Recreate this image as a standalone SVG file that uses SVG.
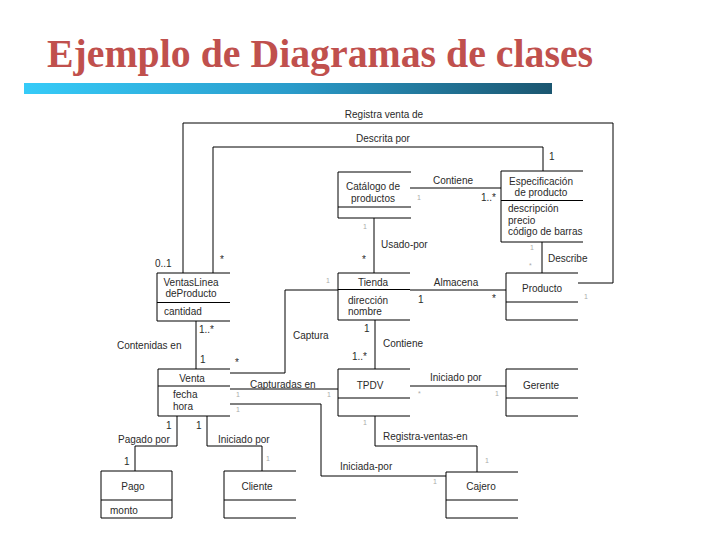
<svg xmlns="http://www.w3.org/2000/svg" width="720" height="540" viewBox="0 0 720 540">
<defs>
<linearGradient id="bar" x1="0" y1="0" x2="1" y2="0">
<stop offset="0" stop-color="#36cbf8"/>
<stop offset="0.5" stop-color="#2a9ccb"/>
<stop offset="1" stop-color="#1b5670"/>
</linearGradient>
<style>
.b{fill:none;stroke:#000;stroke-width:1}
.l{fill:none;stroke:#000;stroke-width:1}
.t{font-family:"Liberation Sans",Arial,sans-serif;font-size:10px;fill:#2a2a2a}
.c{text-anchor:middle}
.s{font-family:"Liberation Sans",Arial,sans-serif;font-size:7px;fill:#aaa}
</style>
</defs>
<rect width="720" height="540" fill="#fff"/>
<text x="47" y="67" font-family="'Liberation Serif','Times New Roman',serif" font-weight="bold" font-size="39.8" fill="#c0504d">Ejemplo de Diagramas de clases</text>
<rect x="24" y="83" width="528" height="11" fill="url(#bar)"/>

<g id="connectors">
<polyline class="l" points="183,273 183,123 613,123 613,283 578,283"/>
<polyline class="l" points="213,273 213,147 543,147 543,171"/>
<line class="l" x1="410" y1="188" x2="501" y2="188"/>
<line class="l" x1="374" y1="218" x2="374" y2="273"/>
<line class="l" x1="542" y1="242" x2="542" y2="273"/>
<line class="l" x1="410" y1="290" x2="506" y2="290"/>
<polyline class="l" points="230,373 285,373 285,290 338,290"/>
<line class="l" x1="375" y1="320" x2="375" y2="369"/>
<line class="l" x1="196" y1="321" x2="196" y2="369"/>
<line class="l" x1="230" y1="389" x2="338" y2="389"/>
<polyline class="l" points="230,404 321,404 321,476 446,476"/>
<line class="l" x1="410" y1="386" x2="506" y2="386"/>
<polyline class="l" points="375,416 375,446 477,446 477,472"/>
<polyline class="l" points="177,416 177,446 135,446 135,471"/>
<polyline class="l" points="207,416 207,446 262,446 262,471"/>

<text class="t c" x="384" y="118">Registra venta de</text>
<text class="t c" x="383" y="142">Descrita por</text>
<text class="t" x="549" y="160">1</text>
<text class="t c" x="453" y="183.5">Contiene</text>
<text class="t" x="481" y="201">1..*</text>
<text class="s" x="417" y="200">1</text>
<text class="t" x="381" y="248">Usado-por</text>
<text class="t" x="362" y="263">*</text>
<text class="s" x="363" y="229">1</text>
<text class="t" x="548" y="261.5">Describe</text>
<text class="s" x="530" y="250">1</text>
<text class="s" x="529" y="268">*</text>
<text class="t c" x="456" y="286">Almacena</text>
<text class="t" x="418" y="303">1</text>
<text class="t" x="492" y="302">*</text>
<text class="s" x="584" y="299">1</text>
<text class="t" x="155" y="266.5">0..1</text>
<text class="t" x="220" y="263">*</text>
<text class="t" x="293" y="338.5">Captura</text>
<text class="s" x="326" y="283">1</text>
<text class="t" x="235" y="366">*</text>
<text class="t" x="364" y="331.5">1</text>
<text class="t" x="352" y="360">1..*</text>
<text class="t" x="383" y="346.5">Contiene</text>
<text class="t" x="199" y="333">1..*</text>
<text class="t" x="200" y="363">1</text>
<text class="t" x="117" y="348.5">Contenidas en</text>
<text class="t" x="250" y="387.5">Capturadas en</text>
<text class="s" x="236" y="397">1</text>
<text class="s" x="327" y="397">1</text>
<text class="t" x="340" y="470">Iniciada-por</text>
<text class="s" x="236" y="412">1</text>
<text class="s" x="433" y="484">1</text>
<text class="t" x="430" y="381">Iniciado por</text>
<text class="s" x="418" y="396">*</text>
<text class="s" x="495" y="396">1</text>
<text class="t" x="383" y="440">Registra-ventas-en</text>
<text class="s" x="363" y="425">1</text>
<text class="s" x="485" y="463">1</text>
<text class="t" x="118" y="443">Pagado por</text>
<text class="t" x="166" y="428.5">1</text>
<text class="t" x="124" y="465">1</text>
<text class="t" x="218" y="442.5">Iniciado por</text>
<text class="t" x="196" y="428.5">1</text>
<text class="s" x="266" y="461">1</text>
</g>

<g id="catalogo">
<path class="b" d="M411,172 H338 V218 H411 M338,207 H411"/>
<text class="t c" x="373" y="189.5">Catálogo de</text>
<text class="t c" x="373" y="201.5">productos</text>
</g>
<g id="especificacion">
<path class="b" d="M583,171 H501 V242 H583 M501,200.5 H583"/>
<text class="t c" x="541" y="185">Especificación</text>
<text class="t c" x="541" y="195.5">de producto</text>
<text class="t" x="508" y="212">descripción</text>
<text class="t" x="508" y="224">precio</text>
<text class="t" x="508" y="235">código de barras</text>
</g>
<g id="ventaslinea">
<path class="b" d="M230,273 H157 V321 H230 M157,302.5 H230"/>
<text class="t c" x="191" y="286">VentasLinea</text>
<text class="t c" x="191" y="297">deProducto</text>
<text class="t" x="164" y="314.5">cantidad</text>
</g>
<g id="tienda">
<path class="b" d="M410,273 H338 V320 H410 M338,289.5 H410"/>
<text class="t c" x="373" y="285.5">Tienda</text>
<text class="t" x="348" y="303.5">dirección</text>
<text class="t" x="348" y="315">nombre</text>
</g>
<g id="producto">
<path class="b" d="M578,273 H506 V320 H578 M506,302 H578"/>
<text class="t c" x="542" y="291.5">Producto</text>
</g>
<g id="venta">
<path class="b" d="M230,369 H158 V416 H230 M158,386 H230"/>
<text class="t c" x="192" y="381.5">Venta</text>
<text class="t" x="173" y="398">fecha</text>
<text class="t" x="173" y="410">hora</text>
</g>
<g id="tpdv">
<path class="b" d="M410,369 H338 V416 H410 M338,398 H410"/>
<text class="t c" x="370" y="388.5">TPDV</text>
</g>
<g id="gerente">
<path class="b" d="M578,369 H506 V416 H578 M506,398 H578"/>
<text class="t c" x="541" y="388.5">Gerente</text>
</g>
<g id="pago">
<path class="b" d="M101,471 H172 V518 H101 Z M101,500 H172"/>
<text class="t c" x="133" y="489.5">Pago</text>
<text class="t" x="110" y="513.5">monto</text>
</g>
<g id="cliente">
<path class="b" d="M296,471 H224 V518 H296 M224,500 H296"/>
<text class="t c" x="257" y="489.5">Cliente</text>
</g>
<g id="cajero">
<path class="b" d="M518,472 H446 V518 H518 M446,500 H518"/>
<text class="t c" x="481" y="489.5">Cajero</text>
</g>
</svg>
